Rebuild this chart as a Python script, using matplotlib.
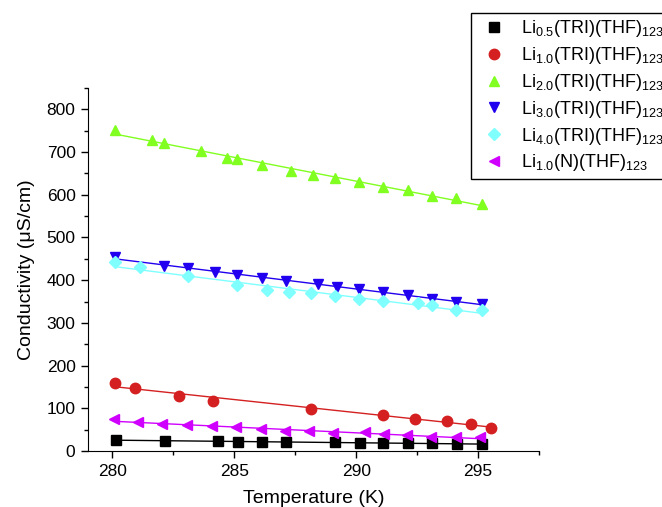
import numpy as np
import matplotlib
matplotlib.use("Agg")
import matplotlib.pyplot as plt
from matplotlib.ticker import MultipleLocator

plt.rcParams['font.family'] = ['Liberation Sans', 'DejaVu Sans']
plt.rcParams['mathtext.default'] = 'regular'

# Data (T in K, conductivity in uS/cm)
t_05 = [280.14, 282.16, 284.32, 285.14, 286.12, 287.12, 289.13, 290.14, 291.12, 292.12, 293.13, 294.13, 295.15]
s_05 = [26, 24, 23, 22, 21, 20.5, 20, 19, 19, 18, 18, 17, 16]

t_10 = [280.11, 280.93, 282.73, 284.14, 288.13, 291.12, 292.42, 293.73, 294.73, 295.53]
s_10 = [160, 147, 128, 118, 99, 84, 76, 70, 63, 54]

t_20 = [280.11, 281.61, 282.13, 283.62, 284.71, 285.11, 286.12, 287.31, 288.23, 289.13,
        290.11, 291.12, 292.12, 293.13, 294.11, 295.15]
s_20 = [752, 729, 722, 702, 687, 683, 669, 656, 646, 639, 631, 619, 612, 596, 592, 579]

t_30 = [280.11, 282.13, 283.11, 284.21, 285.12, 286.12, 287.12, 288.42, 289.22, 290.11,
        291.12, 292.12, 293.13, 294.11, 295.15]
s_30 = [455, 434, 428, 419, 413, 405, 398, 391, 385, 380, 373, 366, 356, 349, 344]

t_40 = [280.11, 281.14, 283.11, 285.12, 286.33, 287.23, 288.13, 289.13, 290.11, 291.12,
        292.54, 293.13, 294.11, 295.15]
s_40 = [442, 431, 409, 389, 378, 373, 369, 362, 356, 351, 347, 341, 331, 329]

t_n = [280.05, 281.07, 282.02, 283.07, 284.10, 285.06, 286.08, 287.08, 288.06, 289.07,
       290.37, 291.16, 292.09, 293.07, 294.09, 295.06]
s_n = [74, 68, 64, 60, 58, 56, 52, 47, 46, 42, 45, 40, 37, 33, 32, 32]

series = [
    (t_05, s_05, 's', '#000000', r'Li$_{0.5}$(TRI)(THF)$_{123}$'),
    (t_10, s_10, 'o', '#d42020', r'Li$_{1.0}$(TRI)(THF)$_{123}$'),
    (t_20, s_20, '^', '#80ff20', r'Li$_{2.0}$(TRI)(THF)$_{123}$'),
    (t_30, s_30, 'v', '#2000ee', r'Li$_{3.0}$(TRI)(THF)$_{123}$'),
    (t_40, s_40, 'D', '#80ffff', r'Li$_{4.0}$(TRI)(THF)$_{123}$'),
    (t_n, s_n, '<', '#d000ff', r'Li$_{1.0}$(N)(THF)$_{123}$'),
]

fig = plt.figure(figsize=(6.62, 5.07), dpi=100)
ax = fig.add_axes([88/662, 1 - 451/507, (539 - 88)/662, (451 - 88)/507])

for t, s, m, c, lab in series:
    ms = 6.5 if m == 'D' else 7.5
    ax.plot(t, s, linestyle='none', marker=m, color=c, markersize=ms, label=lab)
    # linear fit drawn between the first and last temperature
    k, b = np.polyfit(t, s, 1)
    xs = np.array([min(t), max(t)])
    ax.plot(xs, k * xs + b, color=c, linewidth=1)

ax.set_xlim(279, 297.5)
ax.set_ylim(0, 850)
ax.xaxis.set_major_locator(MultipleLocator(5))
ax.xaxis.set_minor_locator(MultipleLocator(2.5))
ax.yaxis.set_major_locator(MultipleLocator(100))
ax.yaxis.set_minor_locator(MultipleLocator(50))
ax.set_xticks([280, 285, 290, 295])
ax.spines['top'].set_visible(False)
ax.spines['right'].set_visible(False)
ax.tick_params(which='major', direction='out', length=5, width=1, labelsize=12.5, pad=4)
ax.tick_params(which='minor', direction='out', length=3, width=1)
ax.set_xlabel("Temperature (K)", fontsize=14, labelpad=8)
ax.set_ylabel("Conductivity (μS/cm)", fontsize=14, labelpad=8)

leg = fig.legend(loc='upper left', bbox_to_anchor=(471/662, 1 - 13/507), borderaxespad=0,
                 fancybox=False, edgecolor='black', fontsize=13, handletextpad=0.5,
                 labelspacing=0.32, borderpad=0.3, handlelength=1.95, framealpha=1)
leg.get_frame().set_linewidth(1)

fig.savefig("out.png", dpi=100)
